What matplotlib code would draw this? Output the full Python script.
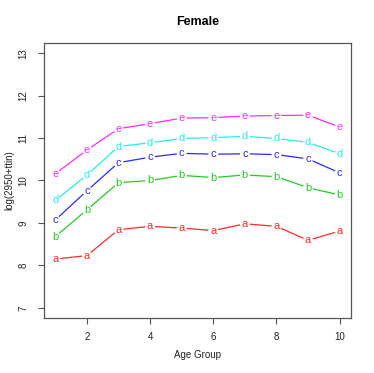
import matplotlib
matplotlib.use("Agg")
import matplotlib.pyplot as plt
import numpy as np

age = [1, 2, 3, 4, 5, 6, 7, 8, 9, 10]
labels = ["a", "b", "c", "d", "e"]
colors = ["#ff2a2a", "#22cc22", "#2a2aff", "#22eeee", "#ff2aff"]
a = [8.15, 8.23, 8.84, 8.92, 8.88, 8.82, 8.98, 8.92, 8.59, 8.81]
b = [8.68, 9.31, 9.95, 10.00, 10.12, 10.07, 10.13, 10.09, 9.83, 9.66]
c = [9.07, 9.76, 10.42, 10.55, 10.64, 10.62, 10.63, 10.61, 10.51, 10.18]
d = [9.53, 10.13, 10.80, 10.89, 10.99, 11.01, 11.04, 10.99, 10.90, 10.63]
e = [10.16, 10.72, 11.22, 11.34, 11.47, 11.48, 11.52, 11.53, 11.54, 11.26]
series = [a, b, c, d, e]
xticks = [2, 4, 6, 8, 10]
yticks = [7, 8, 9, 10, 11, 12, 13]

plt.rcParams['font.family'] = ['Liberation Sans', 'DejaVu Sans']
W, H = 374, 373
fig = plt.figure(figsize=(W / 100, H / 100), dpi=100)
ax = fig.add_axes([44 / W, (H - 318) / H, (351 - 44) / W, (318 - 43) / H])
ax.set_xlim(1 - 0.04 * 9, 10 + 0.04 * 9)
ax.set_ylim(7 - 0.04 * 6, 13 + 0.04 * 6)
for s in ax.spines.values():
    s.set_color("#555555")
    s.set_linewidth(0.9)
ax.set_xticks(xticks)
ax.set_yticks(yticks)
ax.tick_params(axis='both', colors="#555555", length=4, width=0.8, labelsize=7, labelcolor="#222222")
ax.tick_params(axis='x', pad=6)
ax.tick_params(axis='y', pad=7)
for lab in ax.get_yticklabels():
    lab.set_rotation(90)
    lab.set_va('center')

fig.canvas.draw()
tr = ax.transData
inv = tr.inverted()
gap = 5.5
for vals, lab, col in zip(series, labels, colors):
    pts = tr.transform(np.column_stack([age, vals]))
    for i in range(len(pts) - 1):
        p0, p1 = pts[i], pts[i + 1]
        dvec = p1 - p0
        L = np.hypot(*dvec)
        if L <= 2 * gap:
            continue
        u = dvec / L
        q0 = inv.transform(p0 + u * gap)
        q1 = inv.transform(p1 - u * gap)
        ax.plot([q0[0], q1[0]], [q0[1], q1[1]], color=col, lw=0.9)
    for x, y in zip(age, vals):
        ax.text(x, y, lab, color=col, fontsize=8, ha='center', va='center')

fig.text((44 + 351) / 2 / W, 1 - 22 / H, "Female", ha='center', va='center', fontsize=9, fontweight='bold')
fig.text((44 + 351) / 2 / W, 1 - 355 / H, "Age Group", ha='center', va='center', fontsize=7, color="#222222")
fig.text(9 / W, 1 - 180 / H, "log(2950+ttin)", ha='center', va='center', rotation=90, fontsize=7, color="#222222")

fig.savefig("out.png", dpi=100, facecolor='white')
